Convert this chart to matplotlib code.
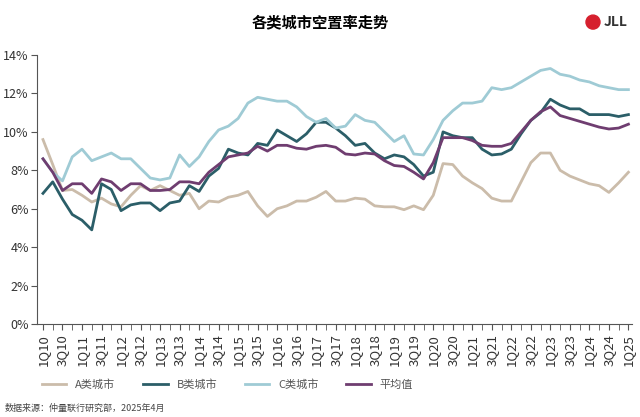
import numpy as np
import matplotlib.pyplot as plt
from matplotlib.patches import Circle

plt.rcParams['font.family'] = ['Noto Sans CJK SC', 'DejaVu Sans']

quarters = ['%dQ%02d' % (q, y) for y in range(10, 26) for q in (1, 2, 3, 4)][:61]

city_a = [9.6, 8.3, 6.95, 7.0, 6.7, 6.35, 6.55, 6.25, 6.1, 6.7, 7.2, 6.95, 7.2, 6.95, 6.7, 6.8,
          6.0, 6.4, 6.35, 6.6, 6.7, 6.9, 6.15, 5.6, 6.0, 6.15, 6.4, 6.4, 6.6, 6.9, 6.4, 6.4,
          6.55, 6.5, 6.15, 6.1, 6.1, 5.95, 6.15, 5.95, 6.7, 8.35, 8.3, 7.7, 7.35, 7.05, 6.55,
          6.4, 6.4, 7.4, 8.4, 8.9, 8.9, 8.0, 7.7, 7.5, 7.3, 7.2, 6.85, 7.35, 7.9]
city_b = [6.8, 7.4, 6.5, 5.7, 5.4, 4.9, 7.3, 7.0, 5.9, 6.2, 6.3, 6.3, 5.9, 6.3, 6.4, 7.2,
          6.9, 7.7, 8.1, 9.1, 8.9, 8.8, 9.4, 9.3, 10.1, 9.8, 9.5, 9.9, 10.5, 10.5, 10.2, 9.8,
          9.3, 9.4, 8.9, 8.6, 8.8, 8.7, 8.3, 7.7, 7.9, 10.0, 9.8, 9.7, 9.7, 9.1, 8.8, 8.85,
          9.1, 9.9, 10.6, 11.0, 11.7, 11.4, 11.2, 11.2, 10.9, 10.9, 10.9, 10.8, 10.9]
city_c = [8.6, 7.9, 7.45, 8.7, 9.1, 8.5, 8.7, 8.9, 8.6, 8.6, 8.1, 7.6, 7.5, 7.6, 8.8, 8.2,
          8.7, 9.5, 10.1, 10.3, 10.7, 11.5, 11.8, 11.7, 11.6, 11.6, 11.3, 10.8, 10.5, 10.7,
          10.2, 10.3, 10.9, 10.6, 10.5, 10.0, 9.5, 9.8, 8.85, 8.8, 9.6, 10.6, 11.1, 11.5, 11.5,
          11.6, 12.3, 12.2, 12.3, 12.6, 12.9, 13.2, 13.3, 13.0, 12.9, 12.7, 12.6, 12.4, 12.3,
          12.2, 12.2]
average = [8.6, 7.9, 6.95, 7.3, 7.3, 6.8, 7.55, 7.4, 6.95, 7.3, 7.3, 6.95, 6.95, 7.0, 7.4,
           7.4, 7.3, 7.9, 8.3, 8.7, 8.8, 8.9, 9.25, 9.0, 9.3, 9.3, 9.15, 9.1, 9.25, 9.3, 9.2,
           8.85, 8.8, 8.9, 8.85, 8.5, 8.25, 8.2, 7.9, 7.55, 8.4, 9.7, 9.7, 9.7, 9.55, 9.3,
           9.25, 9.25, 9.4, 10.0, 10.6, 11.05, 11.3, 10.85, 10.7, 10.55, 10.4, 10.25, 10.15,
           10.2, 10.4]

series = [('A类城市', city_a, '#cbbcaa'), ('B类城市', city_b, '#2b5e68'),
          ('C类城市', city_c, '#9fcbd5'), ('平均值', average, '#6f3d70')]

fig = plt.figure(figsize=(6.4, 4.17), dpi=100)
ax = fig.add_axes([0.058, 0.223, 0.930, 0.645])
x = np.arange(len(quarters))
for name, vals, col in series:
    ax.plot(x, vals, color=col, lw=2, label=name)

ax.set_ylim(0, 14)
ax.set_yticks(range(0, 15, 2))
ax.set_yticklabels(['%d%%' % v for v in range(0, 15, 2)], fontsize=9, color='#333333')
ax.set_xlim(-0.6, 60.4)
ax.set_xticks(x, minor=True)
ax.set_xticks(x[::2])
ax.set_xticklabels(quarters[::2], rotation=90, fontsize=9.5, color='#333333')
ax.tick_params(axis='x', which='both', length=4, color='#555555')
ax.tick_params(axis='y', length=4, pad=2, color='#555555')
for s in ('top', 'right'):
    ax.spines[s].set_visible(False)
for s in ('left', 'bottom'):
    ax.spines[s].set_color('#555555')

fig.text(0.5, 0.947, '各类城市空置率走势', ha='center', va='center', fontsize=11, weight='bold')
fig.patches.append(Circle((593, 0.947 * 417), 7, transform=None, color='#d6202e'))
fig.text(0.943, 0.947, 'JLL', ha='left', va='center', fontsize=10, weight='bold', color='#333333')

fig.legend(loc='lower left', bbox_to_anchor=(0.05, 0.04), ncol=4, frameon=False, fontsize=8,
           handlelength=2.2, columnspacing=2.5, labelcolor='#555555')
fig.text(0.008, 0.015, '数据来源：仲量联行研究部，2025年4月', fontsize=6.5, style='italic',
         color='#444444')

fig.savefig('out.png')
